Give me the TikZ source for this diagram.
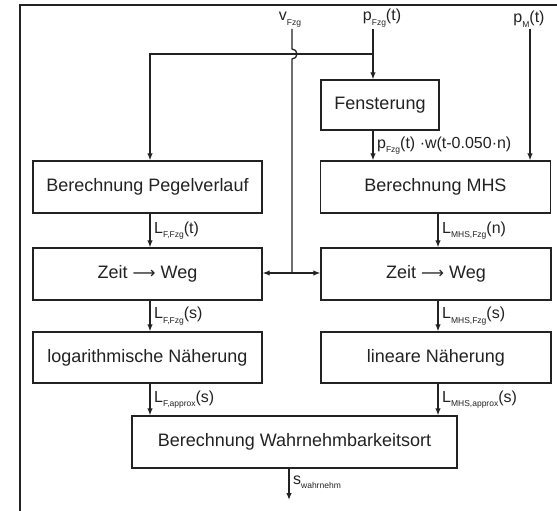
\documentclass[tikz,border=0pt]{standalone}
\usepackage{fontspec}
\setmainfont{Liberation Sans}
\newfontfamily\symfont{DejaVu Sans}
\usetikzlibrary{arrows.meta}
\definecolor{ink}{HTML}{222222}
\newcommand\lsub[1]{\raisebox{-0.3em}{\fontsize{8.5}{9}\selectfont #1}}
\begin{document}
\begin{tikzpicture}[x=1pt,y=1pt,
  box/.style={draw=ink, line width=1.3pt, text=ink, font=\fontsize{18}{21}\selectfont, inner sep=0pt, minimum height=52pt},
  lab/.style={font=\fontsize{16}{18}\selectfont, text=ink, inner sep=1.5pt},
  ln/.style={draw=ink, line width=1.3pt},
  arr/.style={draw=ink, line width=1.3pt, -{Latex[length=7pt,width=5.5pt]}}]
\useasboundingbox (0,0) rectangle (557,-511);
% frame
\draw[draw=ink, line width=1.3pt] (20,-511) -- (20,-5) -- (557,-5);
% boxes
\node[box, minimum width=118pt, minimum height=50pt] (fen) at (380,-105) {Fensterung};
\node[box, minimum width=229pt] (peg) at (147.5,-187) {Berechnung Pegelverlauf};
\node[box, minimum width=230pt] (mhs) at (435.5,-187) {Berechnung MHS};
\node[box, minimum width=229pt] (zl) at (147.5,-274) {Zeit {\symfont\fontsize{16}{18}\selectfont ⟶} Weg};
\node[box, minimum width=230pt] (zr) at (436,-274) {Zeit {\symfont\fontsize{16}{18}\selectfont ⟶} Weg};
\node[box, minimum width=229pt, minimum height=51pt] (logn) at (147.5,-357.5) {logarithmische Näherung};
\node[box, minimum width=230pt, minimum height=51pt] (lin) at (436,-357.5) {lineare Näherung};
\node[box, minimum width=325pt] (wahr) at (294.5,-442) {Berechnung Wahrnehmbarkeitsort};
% column coordinates
\coordinate (cL) at (150,0);
\coordinate (cR) at (438,0);
\coordinate (cF) at (373,0);
\coordinate (cV) at (292,0);
\coordinate (cM) at (530,0);
\coordinate (cO) at (289,0);
% top inputs
\node[lab, anchor=south] (vF) at (290,-29) {v\lsub{Fzg}};
\node[lab, anchor=south] (pF) at (382,-29) {p\lsub{Fzg}(t)};
\node[lab, anchor=south] (pM) at (529,-29) {p\lsub{M}(t)};
\coordinate (pFs) at (373,-29);
\coordinate (branch) at (373,-54);
\coordinate (bL) at (150,-54);
\draw[arr] (pFs) -- (pFs |- fen.north);
\draw[arr] (branch) -- (bL) -- (bL |- peg.north);
\draw[ln] (cV |- vF.south) -- (292,-49) arc[start angle=90, end angle=-90, radius=5pt] -- (292,-273) coordinate (vJ);
\draw[arr] (vJ) -- (zl.east |- vJ);
\draw[arr] (vJ) -- (zr.west |- vJ);
\draw[arr] (cM |- pM.south) -- (cM |- mhs.north);
% vertical flows
\draw[arr] (fen.south -| cF) -- node[lab, anchor=west, xshift=2pt] {p\lsub{Fzg}(t) ·w(t-0.050·n)} (mhs.north -| cF);
\draw[arr] (peg.south -| cL) -- node[lab, anchor=west, xshift=2pt] {L\lsub{F,Fzg}(t)} (zl.north -| cL);
\draw[arr] (mhs.south -| cR) -- node[lab, anchor=west, xshift=2pt] {L\lsub{MHS,Fzg}(n)} (zr.north -| cR);
\draw[arr] (zl.south -| cL) -- node[lab, anchor=west, xshift=2pt] {L\lsub{F,Fzg}(s)} (logn.north -| cL);
\draw[arr] (zr.south -| cR) -- node[lab, anchor=west, xshift=2pt] {L\lsub{MHS,Fzg}(s)} (lin.north -| cR);
\draw[arr] (logn.south -| cL) -- node[lab, anchor=west, xshift=2pt] {L\lsub{F,approx}(s)} (wahr.north -| cL);
\draw[arr] (lin.south -| cR) -- node[lab, anchor=west, xshift=2pt] {L\lsub{MHS,approx}(s)} (wahr.north -| cR);
\coordinate (out) at (289,-500);
\draw[arr] (wahr.south -| cO) -- node[lab, anchor=west, xshift=2pt, yshift=2pt] {s\lsub{wahrnehm}} (out);
\end{tikzpicture}
\end{document}
